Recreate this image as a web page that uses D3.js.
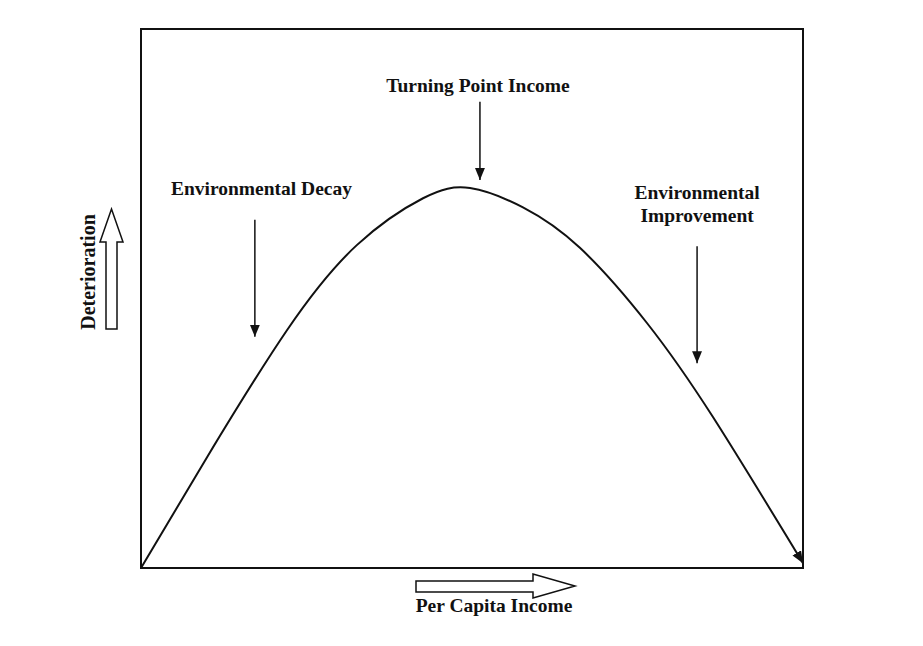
<!DOCTYPE html>
<html>
<head>
<meta charset="utf-8">
<script src="https://cdn.jsdelivr.net/npm/d3@7"></script>
<style>
  html, body { margin: 0; padding: 0; background: #fff; }
  svg { display: block; }
  text { font-family: "Liberation Serif", "Times New Roman", serif; font-weight: bold; fill: #111; }
</style>
</head>
<body>
<svg id="chart" width="923" height="646"></svg>
<script>
// Curve data (income 0-100, deterioration 0-100)
const income = [0, 10.0, 22.1, 32.6, 42.6, 49.7, 57.7, 66.3, 76.4, 86.4, 100];
const deterioration = [0, 20.6, 44.2, 59.9, 68.6, 70.5, 66.9, 59.4, 45.5, 28.0, 0.9];

// Annotation labels (data units)
const labelTexts = ["Turning Point Income", "Environmental Decay", "Environmental", "Improvement"];
const labelX = [50.9, 18.2, 84.0, 84.0];
const labelY = [88.3, 69.2, 68.5, 64.2];

// Annotation arrows (data units): x, yStart, yEnd
const arrowX = [51.2, 17.2, 84.0];
const arrowY0 = [86.5, 64.6, 59.7];
const arrowY1 = [72.0, 42.9, 38.0];

const xAxisLabel = "Per Capita Income";
const yAxisLabel = "Deterioration";

const svg = d3.select("#chart");
const plotL = 141, plotR = 803, plotT = 29, plotB = 568;

const x = d3.scaleLinear().domain([0, 100]).range([plotL, plotR]);
const y = d3.scaleLinear().domain([0, 100]).range([plotB, plotT]);

const defs = svg.append("defs");
defs.append("marker")
  .attr("id", "head")
  .attr("viewBox", "0 0 12 10")
  .attr("refX", 12).attr("refY", 5)
  .attr("markerWidth", 12).attr("markerHeight", 10)
  .attr("markerUnits", "userSpaceOnUse")
  .attr("orient", "auto")
  .append("path").attr("d", "M0,0 L12,5 L0,10 Z").attr("fill", "#111");

// Frame
svg.append("rect")
  .attr("x", plotL).attr("y", plotT)
  .attr("width", plotR - plotL).attr("height", plotB - plotT)
  .attr("fill", "none").attr("stroke", "#111").attr("stroke-width", 2);

// Curve
const pts = income.map((v, i) => [v, deterioration[i]]);
svg.append("path")
  .datum(pts)
  .attr("d", d3.line().x(d => x(d[0])).y(d => y(d[1])).curve(d3.curveNatural))
  .attr("fill", "none").attr("stroke", "#111").attr("stroke-width", 2)
  .attr("marker-end", "url(#head)");

// Annotation arrows
arrowX.forEach((ax, i) => {
  svg.append("line")
    .attr("x1", x(ax)).attr("x2", x(ax))
    .attr("y1", y(arrowY0[i])).attr("y2", y(arrowY1[i]))
    .attr("stroke", "#111").attr("stroke-width", 1.5)
    .attr("marker-end", "url(#head)");
});

// Annotation labels
labelTexts.forEach((t, i) => {
  svg.append("text")
    .attr("x", x(labelX[i])).attr("y", y(labelY[i]))
    .attr("text-anchor", "middle")
    .attr("font-size", 19.5)
    .text(t);
});

// Hollow x-axis arrow
svg.append("path")
  .attr("d", "M416,581 L533,581 L533,574 L575,586 L533,598 L533,592 L416,592 Z")
  .attr("fill", "#fff").attr("stroke", "#111").attr("stroke-width", 1.5);
svg.append("text")
  .attr("x", 494).attr("y", 612)
  .attr("text-anchor", "middle").attr("font-size", 19.5)
  .text(xAxisLabel);

// Hollow y-axis arrow
svg.append("path")
  .attr("d", "M106,329 L106,242 L100,242 L111.5,209 L123,242 L117,242 L117,329 Z")
  .attr("fill", "#fff").attr("stroke", "#111").attr("stroke-width", 1.5);
svg.append("text")
  .attr("transform", "translate(95,272) rotate(-90)")
  .attr("text-anchor", "middle").attr("font-size", 20)
  .text(yAxisLabel);
</script>
</body>
</html>
